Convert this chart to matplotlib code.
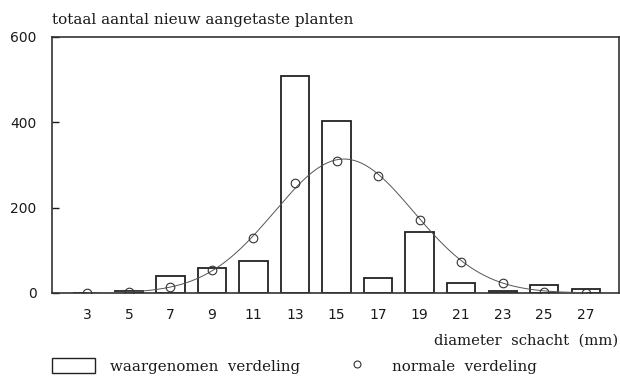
import numpy as np
import matplotlib
matplotlib.use('Agg')
import matplotlib.pyplot as plt
from matplotlib.patches import Rectangle

# diameter classes (mm)
diameters = [3, 5, 7, 9, 11, 13, 15, 17, 19, 21, 23, 25, 27]
# observed counts (bars)
observed = [0, 4, 41, 59, 76, 508, 403, 34, 143, 23, 5, 18, 9]
# expected counts under normal distribution (circles)
expected = [0, 2, 14, 54, 130, 258, 310, 274, 170, 72, 23, 2, 0]
# parameters of the fitted normal curve
norm_mean = 15.36
norm_sd = 3.35
norm_peak = 314

y_ticks = [0, 200, 400, 600]

SERIF = 'DejaVu Serif'
SANS = 'DejaVu Sans'
EDGE = '#222222'
TXT = '#1a1a1a'

fig = plt.figure(figsize=(6.2, 3.84), dpi=100)
ax = fig.add_axes([52 / 620, 1 - 293 / 384, 567 / 620, 256 / 384])

ax.bar(diameters, observed, width=1.36, facecolor='white', edgecolor=EDGE,
       linewidth=1.3, zorder=2)

xs = np.linspace(3, 27, 300)
curve = norm_peak * np.exp(-(xs - norm_mean) ** 2 / (2 * norm_sd ** 2))
ax.plot(xs, curve, color='#555555', linewidth=0.7, zorder=3)
ax.plot(diameters, expected, linestyle='none', marker='o', markersize=6.2,
        markerfacecolor='none', markeredgecolor='#333333',
        markeredgewidth=0.8, zorder=4)

ax.set_xlim(1.3, 28.6)
ax.set_ylim(0, 600)
ax.set_xticks(diameters)
ax.set_xticklabels([str(d) for d in diameters], fontfamily=SANS, fontsize=10)
ax.set_yticks(y_ticks)
ax.set_yticklabels([str(v) for v in y_ticks], fontfamily=SANS, fontsize=10)
ax.tick_params(axis='x', length=0, pad=11, colors=TXT)
ax.tick_params(axis='y', direction='in', length=5, width=1, pad=11,
               colors=TXT)
for s in ax.spines.values():
    s.set_color('#333333')
    s.set_linewidth(1.2)

fig.text(52 / 620, 1 - 20 / 384, 'totaal aantal nieuw aangetaste planten',
         family=SERIF, fontsize=11, ha='left', va='center', color=TXT)
fig.text(618 / 620, 1 - 341 / 384, 'diameter  schacht  (mm)',
         family=SERIF, fontsize=10.6, ha='right', va='center', color=TXT)

# legend
fig.patches.append(Rectangle((52 / 620, 1 - 373 / 384), 43 / 620, 15 / 384,
                             transform=fig.transFigure, facecolor='white',
                             edgecolor=EDGE, linewidth=1.0))
fig.text(110 / 620, 1 - 367 / 384, 'waargenomen  verdeling',
         family=SERIF, fontsize=10.8, ha='left', va='center', color=TXT)
fig.lines.append(plt.Line2D([357 / 620], [1 - 364 / 384], marker='o',
                            markersize=5, markerfacecolor='none',
                            markeredgecolor='#333333', markeredgewidth=0.8,
                            transform=fig.transFigure))
fig.text(392 / 620, 1 - 367 / 384, 'normale  verdeling',
         family=SERIF, fontsize=10.8, ha='left', va='center', color=TXT)

fig.savefig('out.png', dpi=100)
